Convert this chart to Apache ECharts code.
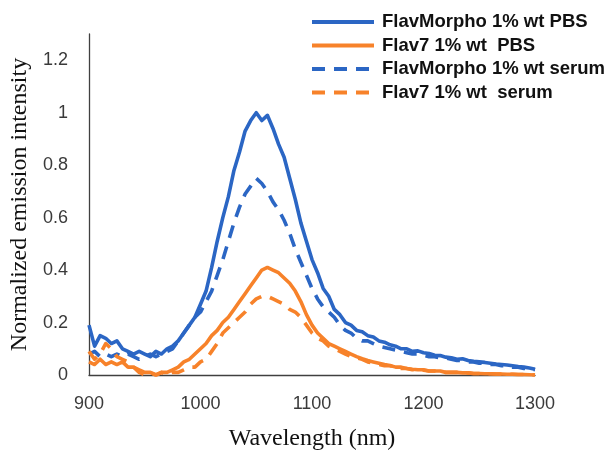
<!DOCTYPE html>
<html>
<head>
<meta charset="utf-8">
<script src="https://cdn.jsdelivr.net/npm/echarts@6/dist/echarts.min.js"></script>
<style>
html,body{margin:0;padding:0;background:#fff;}
#chart{width:614px;height:456px;}
</style>
</head>
<body>
<div id="chart"></div>
<script>
const wavelength = [900,905,910,915,920,925,930,935,940,945,950,955,960,965,970,975,980,985,990,995,
1000,1005,1010,1015,1020,1025,1030,1035,1040,1045,1050,1055,1060,1065,1070,1075,1080,1085,1090,1095,
1100,1105,1110,1115,1120,1125,1130,1135,1140,1145,1150,1155,1160,1165,1170,1175,1180,1185,1190,1195,
1200,1205,1210,1215,1220,1225,1230,1235,1240,1245,1250,1255,1260,1265,1270,1275,1280,1285,1290,1295,1300];

const seriesNames = ["FlavMorpho 1% wt PBS", "Flav7 1% wt  PBS", "FlavMorpho 1% wt serum", "Flav7 1% wt  serum"];

const flavMorphoPBS = [0.19,0.11,0.15,0.14,0.12,0.13,0.10,0.09,0.08,0.09,0.08,0.07,0.09,0.08,0.10,0.11,0.13,0.16,0.19,0.22,
0.27,0.32,0.41,0.51,0.60,0.68,0.78,0.85,0.93,0.97,1.00,0.97,0.99,0.94,0.88,0.83,0.75,0.67,0.58,0.51,
0.44,0.39,0.33,0.30,0.25,0.23,0.20,0.19,0.17,0.165,0.15,0.145,0.13,0.125,0.115,0.11,0.10,0.10,0.09,0.092,
0.085,0.082,0.075,0.074,0.068,0.066,0.06,0.062,0.055,0.052,0.05,0.048,0.045,0.042,0.04,0.038,0.035,0.032,0.03,0.027,0.022];

const flav7PBS = [0.05,0.04,0.06,0.04,0.05,0.04,0.05,0.03,0.03,0.02,0.01,0.01,0.00,0.01,0.01,0.02,0.03,0.05,0.06,0.08,
0.10,0.12,0.15,0.17,0.20,0.22,0.25,0.28,0.31,0.34,0.37,0.40,0.41,0.40,0.39,0.37,0.35,0.32,0.28,0.23,
0.19,0.16,0.14,0.12,0.11,0.10,0.09,0.08,0.07,0.062,0.055,0.05,0.045,0.04,0.036,0.03,0.03,0.025,0.022,0.02,
0.02,0.015,0.015,0.015,0.01,0.01,0.01,0.008,0.008,0.006,0.006,0.005,0.005,0.004,0.004,0.003,0.003,0.002,0.002,0.001,0.00];

const flavMorphoSerum = [0.08,0.09,0.07,0.08,0.07,0.08,0.07,0.08,0.07,0.06,0.07,0.08,0.07,0.08,0.09,0.10,0.13,0.16,0.19,0.22,
0.24,0.28,0.32,0.38,0.44,0.51,0.58,0.64,0.69,0.72,0.75,0.73,0.70,0.66,0.63,0.59,0.54,0.48,0.43,0.38,
0.33,0.29,0.26,0.24,0.22,0.19,0.17,0.16,0.14,0.13,0.13,0.12,0.11,0.105,0.10,0.095,0.09,0.085,0.08,0.08,
0.075,0.07,0.07,0.065,0.065,0.06,0.055,0.055,0.05,0.05,0.045,0.045,0.04,0.04,0.035,0.035,0.03,0.03,0.025,0.025,0.02];

const flav7Serum = [0.09,0.06,0.08,0.12,0.10,0.07,0.06,0.05,0.03,0.01,0.00,0.01,0.00,0.01,0.00,0.01,0.01,0.02,0.03,0.03,
0.05,0.06,0.09,0.12,0.16,0.18,0.20,0.22,0.24,0.27,0.29,0.30,0.30,0.29,0.28,0.27,0.25,0.24,0.22,0.19,
0.16,0.14,0.13,0.11,0.10,0.09,0.08,0.07,0.065,0.06,0.05,0.045,0.04,0.035,0.035,0.03,0.025,0.025,0.02,0.02,
0.018,0.015,0.015,0.012,0.01,0.01,0.01,0.008,0.008,0.006,0.006,0.005,0.005,0.004,0.004,0.003,0.003,0.002,0.002,0.001,0.00];

const xTicks = [900, 1000, 1100, 1200, 1300];
const yTicks = [0, 0.2, 0.4, 0.6, 0.8, 1, 1.2];

const BLUE = '#2B66C4';
const ORANGE = '#F7822A';

function pairs(ys){ return wavelength.map((w,i)=>[w, ys[i]]); }

function mk(name, ys, color, dashed){
  return {
    name: name, type: 'line', data: pairs(ys), symbol: 'none', smooth: false,
    lineStyle: { color: color, width: 3.6, type: dashed ? [13, 9] : 'solid', cap: 'butt', join: 'round' },
    itemStyle: { color: color }
  };
}

const chart = echarts.init(document.getElementById('chart'), null, {renderer: 'canvas'});
chart.setOption({
  animation: false,
  backgroundColor: '#fff',
  grid: { left: 89, right: 79, top: 34, bottom: 75, containLabel: false },
  legend: {
    orient: 'vertical', left: 310, top: 12, padding: 0,
    itemWidth: 62, itemHeight: 20, itemGap: 3.5,
    itemStyle: { opacity: 0 },
    lineStyle: { width: 4 },
    textStyle: { fontFamily: 'Liberation Sans', fontWeight: 'bold', fontSize: 18.5, color: '#111', lineHeight: 20, padding: [0,0,0,3] },
    data: seriesNames
  },
  xAxis: {
    type: 'value', min: xTicks[0], max: xTicks[xTicks.length-1], interval: 100,
    name: 'Wavelength (nm)', nameLocation: 'middle', nameGap: 52,
    nameTextStyle: { fontFamily: 'Liberation Serif', fontSize: 24, color: '#111' },
    axisLine: { show: true, lineStyle: { color: '#404040', width: 1.3 } },
    axisTick: { show: false },
    splitLine: { show: false },
    axisLabel: { margin: 20, fontFamily: 'Liberation Sans', fontSize: 18, color: '#3a3a3a',
      formatter: function(v){ return String(v); } }
  },
  yAxis: {
    type: 'value', min: yTicks[0], max: 1.3, interval: 0.2,
    name: 'Normalized emission intensity', nameLocation: 'middle', nameGap: 53,
    nameTextStyle: { fontFamily: 'Liberation Serif', fontSize: 24, color: '#111' },
    axisLine: { show: true, lineStyle: { color: '#404040', width: 1.3 } },
    axisTick: { show: false },
    splitLine: { show: false },
    axisLabel: { margin: 21, showMaxLabel: false, fontFamily: 'Liberation Sans', fontSize: 18, color: '#3a3a3a',
      formatter: function(v){ return yTicks.some(t => Math.abs(t - v) < 1e-6) ? String(+v.toFixed(1)) : ''; } }
  },
  series: [
    mk(seriesNames[0], flavMorphoPBS, BLUE, false),
    mk(seriesNames[1], flav7PBS, ORANGE, false),
    mk(seriesNames[2], flavMorphoSerum, BLUE, true),
    mk(seriesNames[3], flav7Serum, ORANGE, true)
  ]
});
</script>
</body>
</html>
